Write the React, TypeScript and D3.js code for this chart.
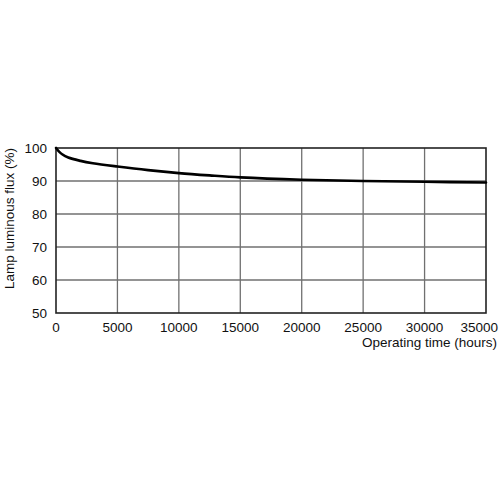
import * as d3 from 'd3'

const hours = [0, 250, 500, 1000, 2000, 3000, 5000, 7500, 10000, 12500, 15000, 20000, 25000, 30000, 35000]
const flux = [100, 98.9, 98.1, 97.1, 96.1, 95.4, 94.4, 93.3, 92.4, 91.7, 91.1, 90.4, 90.0, 89.75, 89.55]
const xTicks = [0, 5000, 10000, 15000, 20000, 25000, 30000, 35000]
const yTicks = [50, 60, 70, 80, 90, 100]

const width = 500
const height = 500
const margin = { top: 148, right: 14, bottom: 187, left: 56 }
const font = '"Liberation Sans", Arial, sans-serif'

export default function App() {
  const innerWidth = width - margin.left - margin.right
  const innerHeight = height - margin.top - margin.bottom

  const x = d3.scaleLinear().domain([0, 35000]).range([0, innerWidth])
  const y = d3.scaleLinear().domain([50, 100]).range([innerHeight, 0])

  const points: [number, number][] = hours.map((h, i) => [h, flux[i]])
  const line = d3
    .line<[number, number]>()
    .x((d) => x(d[0]))
    .y((d) => y(d[1]))
    .curve(d3.curveCatmullRom.alpha(0.5))

  return (
    <svg
      width={width}
      height={height}
      style={{ position: 'absolute', left: 0, top: 0, background: '#fff' }}
      fontFamily={font}
    >
      <g transform={`translate(${margin.left},${margin.top})`}>
        {/* grid */}
        <g stroke="#707070" strokeWidth={1.3}>
          {xTicks.slice(1, -1).map((t) => (
            <line key={t} x1={x(t)} x2={x(t)} y1={0} y2={innerHeight} />
          ))}
          {yTicks.slice(1, -1).map((t) => (
            <line key={t} x1={0} x2={innerWidth} y1={y(t)} y2={y(t)} />
          ))}
        </g>

        <rect
          x={0}
          y={0}
          width={innerWidth}
          height={innerHeight}
          fill="none"
          stroke="#222"
          strokeWidth={1.6}
        />

        <path
          d={line(points) ?? ''}
          fill="none"
          stroke="#000"
          strokeWidth={2.6}
          strokeLinecap="round"
        />

        <g fontSize="13.5" fill="#111" textAnchor="end">
          {yTicks.map((t) => (
            <text key={t} x={-9} y={y(t) + 5}>
              {t}
            </text>
          ))}
        </g>

        <g fontSize="13.5" fill="#111" textAnchor="middle">
          {xTicks.map((t, i) =>
            i === xTicks.length - 1 ? (
              <text key={t} x={innerWidth + 12} y={innerHeight + 19} textAnchor="end">
                {t}
              </text>
            ) : (
              <text key={t} x={x(t)} y={innerHeight + 19}>
                {t}
              </text>
            )
          )}
        </g>

        <text
          x={innerWidth + 11}
          y={innerHeight + 34}
          fontSize="13.5"
          fill="#111"
          textAnchor="end"
        >
          Operating time (hours)
        </text>

        <text
          transform={`translate(${-42},${innerHeight / 2 - 12}) rotate(-90)`}
          fontSize="13.5"
          fill="#111"
          textAnchor="middle"
        >
          Lamp luminous flux (%)
        </text>
      </g>
    </svg>
  )
}
